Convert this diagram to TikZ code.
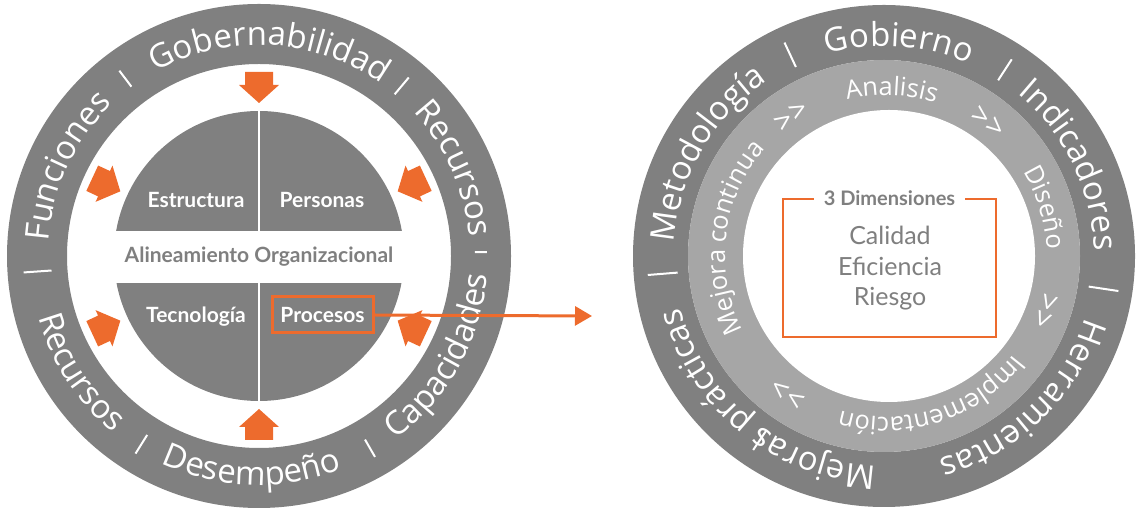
\documentclass[tikz,border=0pt]{standalone}
\usepackage{fontspec}
\setmainfont{Lato}
\newfontfamily\ringfont{Open Sans}
\usetikzlibrary{decorations.text,arrows.meta,positioning}

\definecolor{ringgray}{HTML}{808080}
\definecolor{midgray}{HTML}{A6A6A6}
\definecolor{accent}{HTML}{ED6B2D}
\definecolor{labelgray}{HTML}{7F7F7F}

\newcommand\bigring{\ringfont\fontsize{33}{40}\selectfont}
\newcommand\smallring{\ringfont\fontsize{25.5}{30}\selectfont}
\newcommand\markring{\ringfont\fontsize{30}{34}\selectfont}

\begin{document}
\begin{tikzpicture}[
    x=1pt, y=1pt,
    cwword/.style={decorate, decoration={text along path, text align=center,
        text color=white, text={|\bigring|#1}}},
    ccwword/.style={cwword=#1},
    midword/.style={decorate, decoration={text along path, text align=center,
        text color=white, text={|\smallring|#1}}},
    flowmark/.style={decorate, decoration={text along path, text align=center,
        text color=white, text={|\markring|#1}}},
    innerlabel/.style={text=white, font=\bfseries\fontsize{21}{25}\selectfont, inner sep=2},
    bandlabel/.style={text=labelgray, font=\bfseries\fontsize{21}{25}\selectfont},
    valuelabel/.style={text=labelgray, font=\fontsize{25}{30.5}\selectfont, align=center},
    push/.style={fill=accent}
]
    \useasboundingbox (0,0) rectangle (1142,513);

    % Coordinates
    \coordinate (L) at (259,257);   % left circle
    \coordinate (R) at (884,257);   % right circle
    \coordinate (M) at (886,257);   % right middle ring text
    \coordinate (W) at (889,257);   % right white core

    % ---------- left circle ----------
    \fill[ringgray, even odd rule] (L) circle (252) (L) circle (192);

    % inner disc split in four
    \fill[ringgray] (L) circle (145);
    \fill[white] (100,230) rectangle (420,282);
    \draw[white, line width=2.5] (259,110) -- (259,404);

    % block arrows towards the centre
    \foreach \a in {90,25,-25,270,205,155}
        \fill[push, shift={(259,257)}, rotate=\a]
            (184,-14) -- (171,-14) -- (171,-20) -- (153,0)
            -- (171,20) -- (171,14) -- (184,14) -- cycle;

    % ring words
    \path[cwword=Funciones] (L) ++(195:211) arc[start angle=195, end angle=115, radius=211];
    \path[cwword=Gobernabilidad] (L) ++(132:211) arc[start angle=132, end angle=42, radius=211];
    \path[cwword=Recursos] (L) ++(64:211) arc[start angle=64, end angle=-16, radius=211];
    \path[ccwword=Capacidades] (L) ++(-79:229) arc[start angle=-79, end angle=21, radius=229];
    \path[ccwword=Desempeño] (L) ++(223:229) arc[start angle=223, end angle=313, radius=229];
    \path[ccwword=Recursos] (L) ++(173:229) arc[start angle=173, end angle=253, radius=229];

    % separators
    \foreach \a/\l in {127/20,50/22,1/12,184/28,238/22,300/20}
        \draw[white, line width=2] ([shift={(\a:222-\l/2)}]L) -- ([shift={(\a:222+\l/2)}]L);

    % labels
    \node[innerlabel] (estructura) at (196,313) {Estructura};
    \node[innerlabel] (personas) at (322,313) {Personas};
    \node[innerlabel] (tecnologia) at (196,196) {Tecnología};
    \node[innerlabel, draw=accent, line width=3, minimum width=101, minimum height=36]
        (procesos) at (322.5,198) {Procesos};
    \node[bandlabel] (alineamiento) at (259,256) {Alineamiento Organizacional};

    % ---------- right circle ----------
    \fill[ringgray, even odd rule] (R) circle (251) (R) circle (196);
    \fill[midgray] (R) circle (196);
    \fill[white] (W) circle (146);

    % outer ring words
    \path[cwword=Metodología] (R) ++(195:210) arc[start angle=195, end angle=105, radius=210];
    \path[cwword=Gobierno] (R) ++(126:210) arc[start angle=126, end angle=46, radius=210];
    \path[cwword=Indicadores] (R) ++(71:210) arc[start angle=71, end angle=-19, radius=210];
    \path[cwword=Herramientas] (R) ++(4:210) arc[start angle=4, end angle=-96, radius=210];
    \path[cwword=Mejoras prácticas] (R) ++(286:210) arc[start angle=286, end angle=176, radius=210];

    \foreach \a/\l in {115/27,57/25,-8.5/30,184.6/30,236/24}
        \draw[white, line width=2] ([shift={(\a:222-\l/2)}]R) -- ([shift={(\a:222+\l/2)}]R);

    % middle ring words
    \path[midword=Mejora continua] (M) ++(220:161) arc[start angle=220, end angle=126, radius=161];
    \path[midword=Analisis] (M) ++(128:161) arc[start angle=128, end angle=48, radius=161];
    \path[midword=Diseño] (M) ++(57:161) arc[start angle=57, end angle=-23, radius=161];
    \path[midword=Implementación] (M) ++(-24:161) arc[start angle=-24, end angle=-120, radius=161];
    \foreach \a in {124,52.5,-19,234.5}
        \path[flowmark=>>] (M) ++(\a+20:159) arc[start angle=\a+20, end angle=\a-20, radius=159];

    % dimensions box
    \node[draw=accent, line width=2.5, minimum width=213, minimum height=138]
        (dimbox) at (889.5,245) {};
    \node[fill=white, inner xsep=10, text=labelgray, font=\bfseries\fontsize{20}{24}\selectfont]
        (dimtitle) at (dimbox.north) {3 Dimensiones};
    \node[valuelabel] (dimvalues) at (890,244.5) {Calidad\\Eficiencia\\Riesgo};

    % connector
    \coordinate (target) at (592,197);
    \draw[accent, line width=3, -{Triangle[length=17pt,width=19pt]}] (procesos.east) -- (target);

\end{tikzpicture}
\end{document}
